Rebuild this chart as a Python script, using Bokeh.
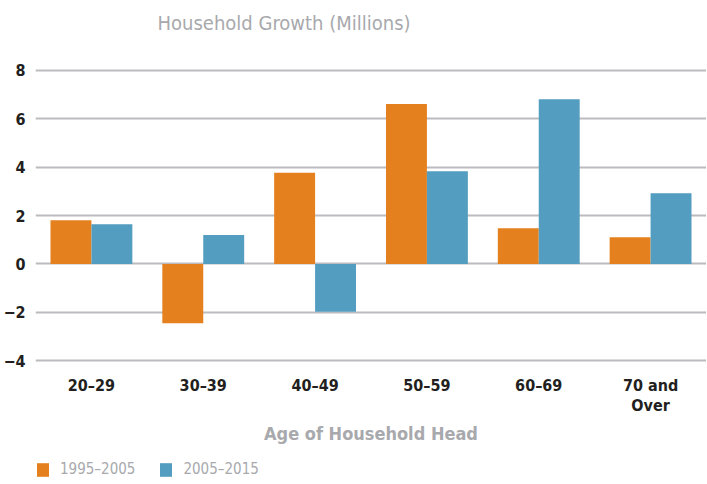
from bokeh.plotting import figure
from bokeh.layouts import column
from bokeh.models import ColumnDataSource, FactorRange, Range1d, FixedTicker, Legend, LegendItem, Label
from bokeh.transform import dodge
from bokeh.embed import file_html
from bokeh.resources import INLINE

categories = ["20–29", "30–39", "40–49", "50–59", "60–69", "70 and\nOver"]
growth_1995_2005 = [1.8, -2.45, 3.77, 6.6, 1.47, 1.1]
growth_2005_2015 = [1.64, 1.19, -1.97, 3.83, 6.8, 2.92]
y_ticks = [-4, -2, 0, 2, 4, 6, 8]
series_names = ["1995–2005", "2005–2015"]
chart_title = "Household Growth (Millions)"
x_title = "Age of Household Head"

FONT = "DejaVu Sans Condensed, Roboto, sans-serif"
ORANGE = "#E4801D"
BLUE = "#529DC0"
GRAY = "#A8A9AD"
W = 699


def strip(h):
    f = figure(x_range=Range1d(0, 1), y_range=Range1d(0, 1), width=W, height=h,
               output_backend="svg", toolbar_location=None,
               x_axis_location=None, y_axis_location=None,
               min_border_left=0, min_border_right=0, min_border_top=0, min_border_bottom=0)
    f.outline_line_color = None
    f.grid.visible = False
    return f


# Title strip
tf = strip(56)
tf.add_layout(Label(x=122, y=34, x_units="screen", y_units="screen", text=chart_title,
                    text_font=FONT, text_font_size="20px", text_color=GRAY,
                    text_baseline="middle", text_align="left"))

# Main chart
source = ColumnDataSource(dict(cat=categories, a=growth_1995_2005, b=growth_2005_2015))
p = figure(
    x_range=FactorRange(*categories, range_padding=0),
    y_range=Range1d(-4.07, 8.07),
    frame_width=671, frame_height=294,
    output_backend="svg", toolbar_location=None,
    min_border_left=28, min_border_right=0, min_border_top=12, min_border_bottom=0,
)
p.outline_line_color = None
p.background_fill_color = "white"
p.border_fill_color = "white"

bw = 0.366
r1 = p.vbar(x=dodge("cat", -bw / 2, range=p.x_range), top="a", bottom=0, width=bw,
            source=source, fill_color=ORANGE, line_color=None)
r2 = p.vbar(x=dodge("cat", bw / 2, range=p.x_range), top="b", bottom=0, width=bw,
            source=source, fill_color=BLUE, line_color=None)

p.xgrid.visible = False
p.ygrid.grid_line_color = "#BCBCC0"
p.ygrid.grid_line_width = 2
p.ygrid.ticker = FixedTicker(ticks=y_ticks)

p.yaxis.ticker = FixedTicker(ticks=y_ticks)
p.yaxis.axis_line_color = None
p.yaxis.major_tick_line_color = None
p.yaxis.minor_tick_line_color = None
p.yaxis.major_label_text_font = FONT
p.yaxis.major_label_text_font_style = "bold"
p.yaxis.major_label_text_font_size = "16px"
p.yaxis.major_label_text_color = "#231F20"
p.yaxis.major_label_standoff = 4

p.xaxis.axis_line_color = None
p.xaxis.major_tick_line_color = None
p.xaxis.minor_tick_line_color = None
p.xaxis.major_label_text_font = FONT
p.xaxis.major_label_text_font_style = "bold"
p.xaxis.major_label_text_font_size = "16px"
p.xaxis.major_label_text_line_height = 1.1
p.xaxis.major_label_text_color = "#231F20"
p.xaxis.major_label_standoff = 7
p.xaxis.axis_label = x_title
p.xaxis.axis_label_text_font = FONT
p.xaxis.axis_label_text_font_style = "bold"
p.xaxis.axis_label_text_font_size = "18px"
p.xaxis.axis_label_text_color = GRAY
p.xaxis.axis_label_standoff = 5

# Legend strip
lg = strip(31)
lr1 = lg.vbar(x=[5], top=[5], width=0.1, fill_color=ORANGE, line_color=None)
lr2 = lg.vbar(x=[5], top=[5], width=0.1, fill_color=BLUE, line_color=None)
legend = Legend(
    items=[LegendItem(label=series_names[0], renderers=[lr1]),
           LegendItem(label=series_names[1], renderers=[lr2])],
    orientation="horizontal", location=(0, 0),
    border_line_color=None, background_fill_alpha=0,
    label_text_font=FONT, label_text_font_size="15px", label_text_color=GRAY,
    glyph_width=15, glyph_height=17, label_standoff=10, spacing=23,
    padding=0, margin=0,
)
lg.add_layout(legend, "center")

layout = column(tf, p, lg, spacing=0)
open("out.html", "w").write(file_html(layout, INLINE))
